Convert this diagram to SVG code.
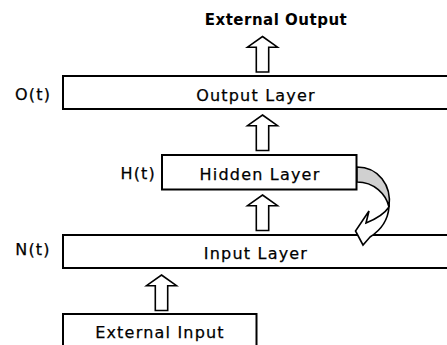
<svg xmlns="http://www.w3.org/2000/svg" width="447" height="345" viewBox="0 0 447 345">
<style>
.box{fill:#fff;stroke:#000;stroke-width:2}
.lbl{font-family:"DejaVu Sans",sans-serif;font-size:16px;fill:#000;stroke:#000;stroke-width:0.25;letter-spacing:1.2px}
.ttl{font-family:"DejaVu Sans",sans-serif;font-size:15px;font-weight:bold;fill:#000;letter-spacing:0.5px}
.arr{fill:#fff;stroke:#000;stroke-width:1.6;stroke-linejoin:miter}
</style>
<defs>
<path id="up" class="arr" d="M0,0 L15,10.7 L6.2,10.7 L6.2,35.5 L-6.2,35.5 L-6.2,10.7 L-15,10.7 Z"/>
</defs>
<rect width="447" height="345" fill="#fff"/>
<g id="external-output">
<text class="ttl" x="276" y="25" text-anchor="middle">External Output</text>
</g>
<g id="output-layer">
<rect class="box" x="63" y="76" width="400" height="33"/>
<text class="lbl" x="256" y="100.5" text-anchor="middle">Output Layer</text>
<text class="lbl" x="33" y="100" text-anchor="middle">O(t)</text>
</g>
<g id="hidden-layer">
<rect class="box" x="162" y="155" width="194.5" height="34.5"/>
<text class="lbl" x="260" y="179.5" text-anchor="middle">Hidden Layer</text>
<text class="lbl" x="156" y="178.5" text-anchor="end">H(t)</text>
</g>
<g id="input-layer">
<rect class="box" x="63" y="235" width="400" height="33"/>
<text class="lbl" x="256" y="259" text-anchor="middle">Input Layer</text>
<text class="lbl" x="33" y="255" text-anchor="middle">N(t)</text>
</g>
<g id="external-input">
<rect class="box" x="63" y="314" width="193.5" height="50"/>
<text class="lbl" x="160" y="338" text-anchor="middle">External Input</text>
</g>
<g id="connectors">
<use href="#up" x="262.5" y="36.5"/>
<use href="#up" x="262.5" y="115"/>
<use href="#up" x="262.5" y="195"/>
<use href="#up" x="161.5" y="275"/>
<path d="M357,167 C378,167 392,185 389,207 C386,194 374,182 357,182 Z" fill="#d0d0d0" stroke="#000" stroke-width="1.6"/>
<path d="M389,207 C388,220 381,230 370,237 L363,245 L355.5,231 L369,211 L366,223 C376,219 385,213 389,207 Z" fill="#fff" stroke="#000" stroke-width="1.6" stroke-linejoin="miter"/>
</g>
</svg>
